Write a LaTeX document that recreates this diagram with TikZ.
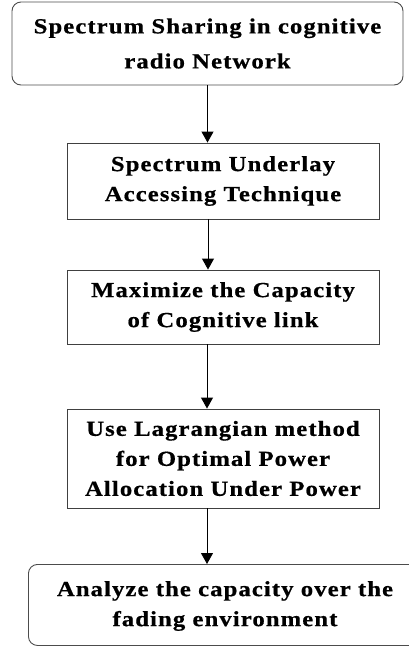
\documentclass[tikz,border=0pt]{standalone}
\usepackage{fontspec}
\setmainfont{Liberation Serif}[FakeStretch=1.15, LetterSpace=5, FakeBold=0.6]
\usetikzlibrary{arrows.meta}
\tikzset{
  flowtext/.style={font=\bfseries\fontsize{21.5}{30}\selectfont, align=center, text=black},
  sqbox/.style={draw=black!75, line width=0.9pt, flowtext},
  rdbox/.style={draw=black!70, line width=0.9pt, rounded corners=9pt, flowtext},
  arr/.style={-{Triangle[width=12pt,length=11pt]}, line width=0.9pt, black},
}
\begin{document}
\begin{tikzpicture}[x=1pt,y=-1pt]
  \useasboundingbox (0,0) rectangle (409,646);
  \clip (0,0) rectangle (409,646);
  % start: rounded box at the top
  \node[rdbox, minimum width=391pt, minimum height=83pt] (b1) at (207.5,43.5)
    {Spectrum Sharing in cognitive\\[5pt]radio Network};
  % process steps
  \node[sqbox, minimum width=312pt, minimum height=76pt] (b2) at (223,181)
    {Spectrum Underlay\\Accessing Technique};
  \node[sqbox, minimum width=312pt, minimum height=74pt] (b3) at (223,307)
    {Maximize the Capacity\\of Cognitive link};
  \node[sqbox, minimum width=312pt, minimum height=99pt] (b4) at (223,458.5)
    {Use Lagrangian method\\for Optimal Power\\Allocation Under Power};
  % end: rounded box, running past the right edge
  \node[rdbox, minimum width=394pt, minimum height=81pt, anchor=north west] (b5) at (28,564) {};
  \node[flowtext] (t5) at (225,606) {Analyze the capacity over the\\fading environment};
  % connectors
  \draw[arr] (b1.south) -- (b1.south |- b2.north);
  \draw[arr] ([xshift=-15pt]b2.south) -- ([xshift=-15pt]b2.south |- b3.north);
  \draw[arr] ([xshift=-16pt]b3.south) -- ([xshift=-16pt]b3.south |- b4.north);
  \draw[arr] ([xshift=-16pt]b4.south) -- ([xshift=-16pt]b4.south |- b5.north);
\end{tikzpicture}
\end{document}
